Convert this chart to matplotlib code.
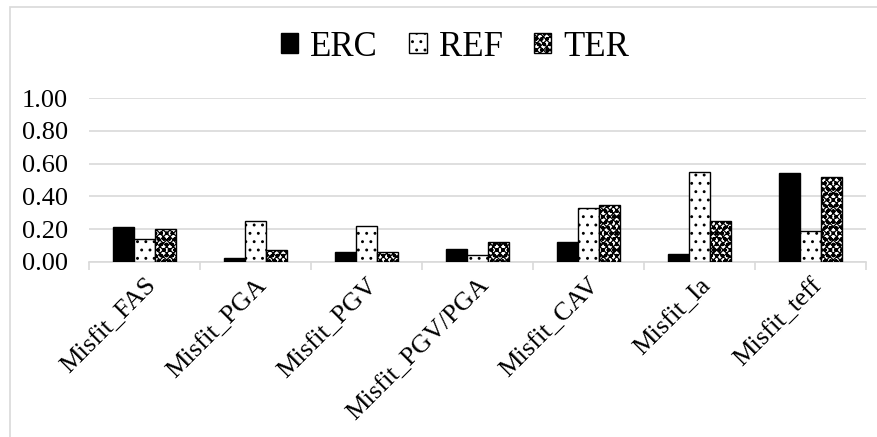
import numpy as np
import matplotlib.pyplot as plt
from matplotlib.patches import Rectangle

plt.rcParams['font.family'] = ['Liberation Serif', 'DejaVu Serif']
plt.rcParams['hatch.linewidth'] = 0.9

# data
categories = ['Misfit_FAS', 'Misfit_PGA', 'Misfit_PGV', 'Misfit_PGV/PGA',
              'Misfit_CAV', 'Misfit_Ia', 'Misfit_teff']
erc = [0.21, 0.02, 0.06, 0.08, 0.12, 0.05, 0.54]
ref = [0.14, 0.25, 0.22, 0.04, 0.33, 0.55, 0.19]
ter = [0.20, 0.07, 0.06, 0.12, 0.35, 0.25, 0.52]
yticks = [0.0, 0.2, 0.4, 0.6, 0.8, 1.0]

fig = plt.figure(figsize=(8.77, 4.37), dpi=100)
ax = fig.add_axes([89 / 877, 1 - 261.7 / 437, (866 - 89) / 877, 163.4 * 1.0 / 437])

x = np.arange(len(categories))
w = 0.19
ax.bar(x - w, erc, w, color='black', edgecolor='black', linewidth=1, label='ERC', zorder=3)
ax.bar(x, ref, w, color='white', edgecolor='black', linewidth=1, hatch='..', label='REF', zorder=3)
ax.bar(x + w, ter, w, color='white', edgecolor='black', linewidth=1, hatch='xxxxxooo', label='TER', zorder=3)

ax.set_xlim(-0.5, len(categories) - 0.5)
ax.set_ylim(0, 1.0)
ax.set_yticks(yticks)
ax.set_yticklabels(['%.2f' % v for v in yticks], fontsize=19)
ax.tick_params(axis='y', length=0, pad=15)
ax.grid(axis='y', color='#d9d9d9', linewidth=1.2, zorder=0)
ax.set_axisbelow(True)

for s in ['left', 'right', 'top']:
    ax.spines[s].set_visible(False)
ax.spines['bottom'].set_color('#d9d9d9')
ax.spines['bottom'].set_linewidth(1.2)

ax.set_xticks(x)
ax.set_xticklabels(categories, rotation=45, ha='right', va='top',
                   rotation_mode='anchor', fontsize=19)
ax.tick_params(axis='x', length=0, pad=9)
ax.set_xticks(np.arange(len(categories) + 1) - 0.5, minor=True)
ax.tick_params(axis='x', which='minor', length=6, color='#d9d9d9', width=1.2)

leg = fig.legend(loc='center', bbox_to_anchor=(455 / 877, 1 - 47 / 437), ncol=3,
                 frameon=False, fontsize=25, handlelength=0.5, handleheight=0.5,
                 handletextpad=0.35, columnspacing=0.9)

# chart frame
fig.patches.append(Rectangle((10 / 877, -0.05), 1.1, 1 - 7 / 437 + 0.05,
                             transform=fig.transFigure, fill=False,
                             edgecolor='#d9d9d9', linewidth=1.2))

fig.savefig('out.png', dpi=100)
